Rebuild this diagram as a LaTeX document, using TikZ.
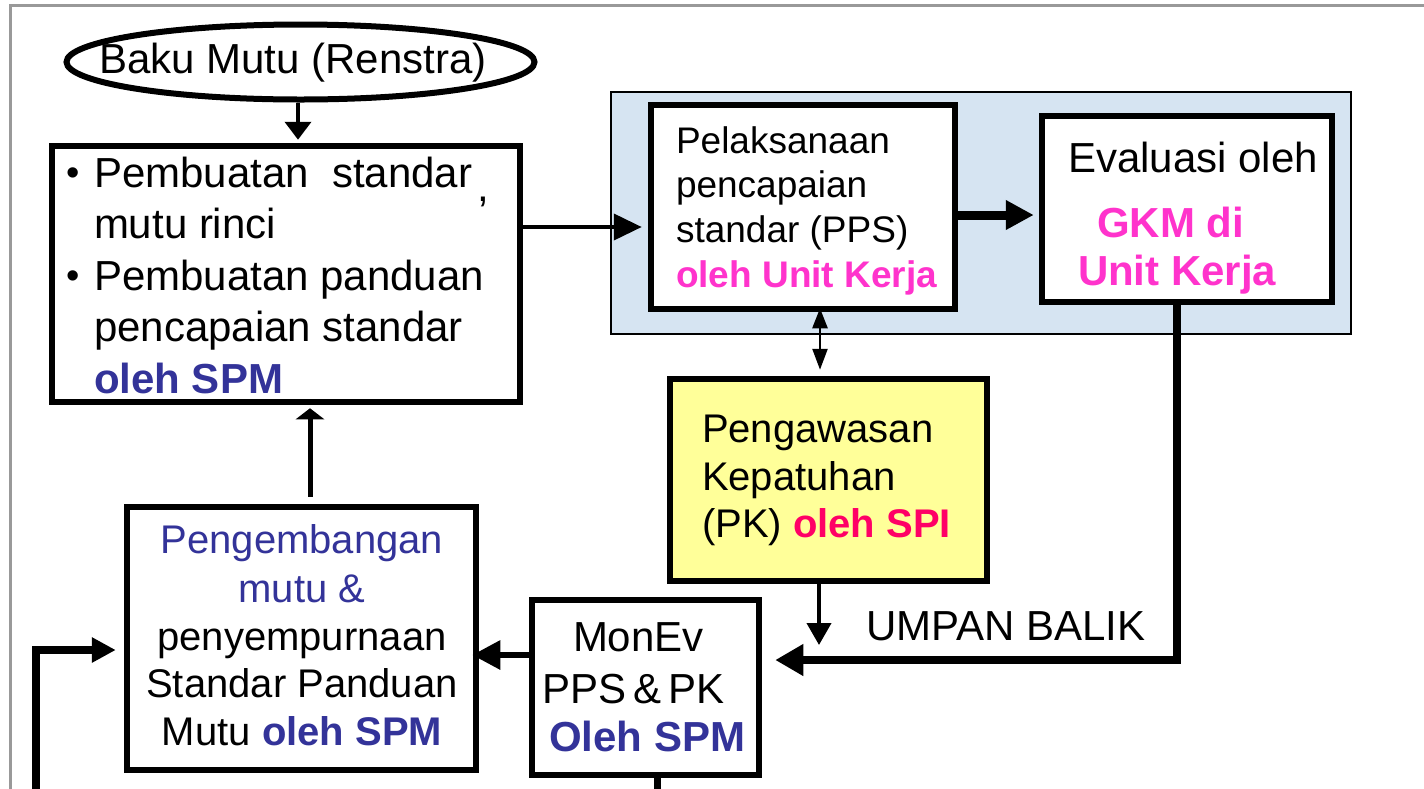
\documentclass[tikz,border=0pt]{standalone}
\usepackage{fontspec}
\setmainfont{Liberation Sans}
\usetikzlibrary{arrows.meta,shapes.geometric,calc}
\definecolor{spmblue}{RGB}{51,51,153}
\definecolor{gkmpink}{RGB}{255,51,204}
\definecolor{spired}{RGB}{255,0,102}
\definecolor{paleyellow}{RGB}{255,255,153}
\definecolor{paleblue}{RGB}{214,228,242}
\definecolor{framegray}{RGB}{153,153,153}
\newcommand\fsz[1]{\fontsize{#1}{#1}\selectfont}
\begin{document}
\begin{tikzpicture}[x=1pt,y=-1pt,
  box/.style={draw=black, line width=6.5pt, fill=white, rectangle, inner sep=0pt},
  txt/.style={anchor=base west, inner sep=0pt, outer sep=0pt},
  ctxt/.style={anchor=base, inner sep=0pt, outer sep=0pt},
  conn/.style={draw=black, line join=miter},
]
\useasboundingbox (0,0) rectangle (1424,788);
% outer gray frame
\draw[framegray, line width=3pt] (10,792) -- (10,5) -- (1430,5);

% background panel
\node[draw=black, line width=1.2pt, fill=paleblue, rectangle, inner sep=0pt,
      minimum width=740pt, minimum height=242pt] (bg) at (981,213) {};

% boxes
\node[draw=black, line width=6pt, fill=white, ellipse, inner sep=0pt,
      minimum width=468pt, minimum height=75pt] (ell) at (300.5,62) {};
\node[box, minimum width=468pt, minimum height=256pt] (b1) at (286,274) {};
\node[box, minimum width=304pt, minimum height=204pt] (pps) at (803,207) {};
\node[box, minimum width=290pt, minimum height=186pt] (eval) at (1187,209) {};
\node[box, fill=paleyellow, minimum width=317pt, minimum height=202pt] (yel) at (828.5,480) {};
\node[box, minimum width=227pt, minimum height=175pt] (mon) at (645.5,687.5) {};
\node[box, minimum width=349pt, minimum height=263pt] (pen) at (301.5,638.5) {};

% texts
\node[txt, font=\fsz{42}] (tell) at (99,73) {Baku Mutu (Renstra)};

\node[txt, font=\fsz{38}] (bul1) at (66,185) {\textbullet};
\node[txt, font=\fsz{42}] (t11) at (94,187) {Pembuatan\ \ standar};
\node[txt, font=\fsz{42}] (t1c) at (477,201) {,};
\node[txt, font=\fsz{42}] (t12) at (94,238) {mutu rinci};
\node[txt, font=\fsz{38}] (bul2) at (66,288) {\textbullet};
\node[txt, font=\fsz{42}] (t13) at (94,290) {Pembuatan panduan};
\node[txt, font=\fsz{42}] (t14) at (94,341) {pencapaian standar};
\node[txt, font=\fsz{42}\bfseries, text=spmblue] (t15) at (94,393) {oleh SPM};

\node[txt, font=\fsz{37}] (t21) at (676,153) {Pelaksanaan};
\node[txt, font=\fsz{37}] (t22) at (676,197) {pencapaian};
\node[txt, font=\fsz{37}] (t23) at (676,242) {standar (PPS)};
\node[txt, font=\fsz{37}\bfseries, text=gkmpink] (t24) at (676,287) {oleh Unit Kerja};

\node[txt, font=\fsz{42}] (t31) at (1068,172) {Evaluasi oleh};
\node[txt, font=\fsz{42}\bfseries, text=gkmpink] (t32) at (1097,237) {GKM di};
\node[txt, font=\fsz{42}\bfseries, text=gkmpink] (t33) at (1078,285) {Unit Kerja};

\node[txt, font=\fsz{40}] (t41) at (702,442) {Pengawasan};
\node[txt, font=\fsz{40}] (t42) at (702,490) {Kepatuhan};
\node[txt, font=\fsz{40}] (t43) at (702,537) {(PK) {\bfseries\color{spired}oleh SPI}};

\node[txt, font=\fsz{42}] (tub) at (866,640) {UMPAN BALIK};

\node[txt, font=\fsz{42}] (t51) at (573,651) {MonEv};
\node[txt, font=\fsz{42}] (t52) at (542,703) {PPS\,\&\,PK};
\node[txt, font=\fsz{42}\bfseries, text=spmblue] (t53) at (549,751) {Oleh SPM};

\node[ctxt, font=\fsz{40}, text=spmblue] (t61) at (302,553) {Pengembangan};
\node[ctxt, font=\fsz{40}, text=spmblue] (t62) at (302,602) {mutu \&};
\node[ctxt, font=\fsz{40}] (t63) at (302,650) {penyempurnaan};
\node[ctxt, font=\fsz{40}] (t64) at (302,697) {Standar Panduan};
\node[ctxt, font=\fsz{40}] (t65) at (302,745) {Mutu {\bfseries\color{spmblue}oleh SPM}};

% coordinates for connectors
\coordinate (ppsIn) at ([xshift=-6pt,yshift=-20pt]pps.west);
\coordinate (ubEnd) at (819,645);
\coordinate (fbCorner) at (1177,660);
\coordinate (lb) at (36,792);
\coordinate (lc) at (36,650);

% connectors
\draw[conn, line width=4pt, -{Triangle[length=18pt,width=26pt]}, shorten >=3pt]
  ([xshift=-2.5pt]ell.south) -- ([xshift=-2.5pt]ell.south |- b1.north);
\draw[conn, line width=4pt, -{Triangle[length=28pt,width=26pt]}]
  ([xshift=-6pt]b1.east |- ppsIn) -- (ppsIn);
\draw[conn, line width=9pt, -{Triangle[length=28pt,width=28pt]}, shorten >=5pt]
  ([yshift=-8pt]pps.east) -- ([yshift=-8pt]pps.east -| eval.west);
\draw[conn, line width=2.5pt, {Triangle[length=20pt,width=15pt]}-{Triangle[length=21pt,width=15pt]},
      shorten <=-4pt, shorten >=6pt]
  ([xshift=17pt]pps.south) -- ([xshift=17pt]pps.south |- yel.north);
\draw[conn, line width=4pt, -{Triangle[length=22pt,width=24pt]}]
  (yel.south -| ubEnd) -- (ubEnd);
\draw[conn, line width=8pt, -{Triangle[length=28pt,width=30pt]}, shorten >=13pt]
  (eval.south -| fbCorner) -- (fbCorner) -- (fbCorner -| mon.east);
\draw[conn, line width=6pt, -{Triangle[length=28pt,width=28pt]}, shorten >=-7pt]
  ([yshift=32.5pt]mon.west) -- ([yshift=32.5pt]mon.west -| pen.east);
\draw[conn, line width=5pt, -{Triangle[length=11pt,width=28pt]}, shorten <=7pt, shorten >=3pt]
  ([xshift=8.5pt]pen.north) -- ([xshift=8.5pt]pen.north |- b1.south);
\draw[conn, line width=8pt, -{Triangle[length=24pt,width=24pt]}, shorten >=8pt]
  (lb) -- (lc) -- (lc -| pen.west);
\draw[conn, line width=7pt] ([xshift=11.5pt]mon.south) -- ([xshift=11.5pt]mon.south |- lb);
\end{tikzpicture}
\end{document}
